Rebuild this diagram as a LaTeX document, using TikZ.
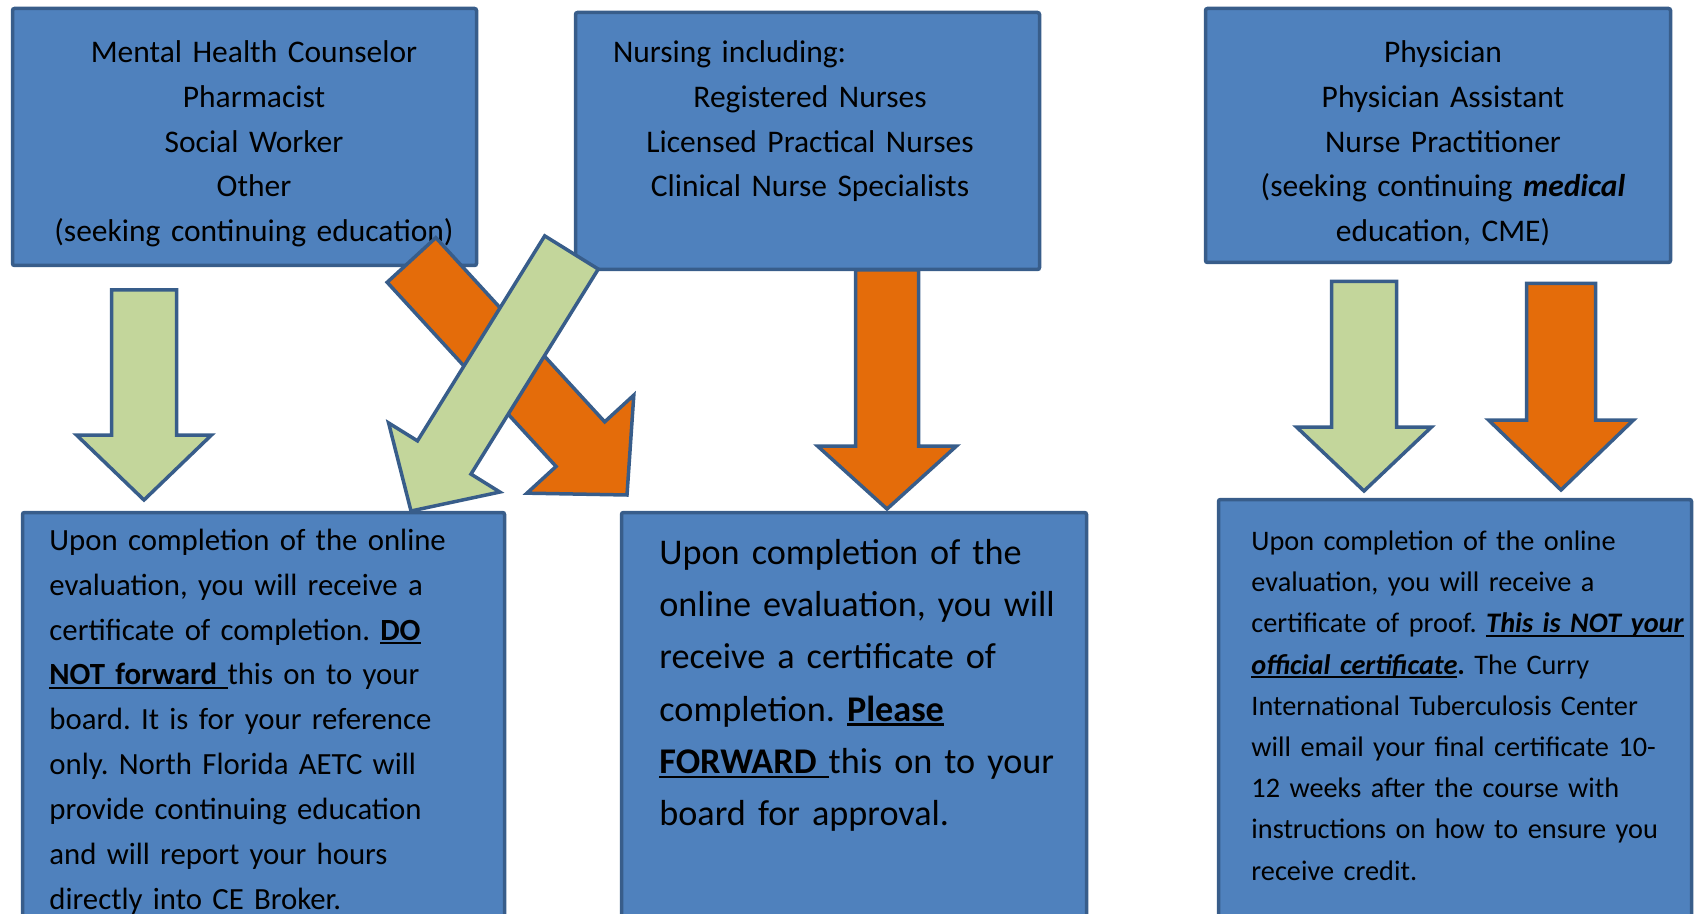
\documentclass[tikz,border=0pt]{standalone}
\usepackage{fontspec}
\setmainfont{Carlito}
\usepackage{tikz}
\usetikzlibrary{calc}
\definecolor{panelblue}{RGB}{79,129,189}
\definecolor{panelline}{RGB}{56,93,138}
\definecolor{arrowgreen}{RGB}{195,214,155}
\definecolor{arroworange}{RGB}{228,108,10}
\frenchspacing
% underline at a fixed depth
\newsavebox{\ulnbox}
\newcommand{\uln}[1]{\leavevmode\sbox\ulnbox{#1}\rlap{\rule[-0.13em]{\wd\ulnbox}{0.065em}}\usebox\ulnbox}
% block arrow: [style]{tail}{tip}{shaft half width}{head half width}{head length}
\newcommand{\blockarrow}[6][]{%
  \coordinate (ba-base) at ($(#3)!#6!(#2)$);
  \filldraw[#1] ($(#2)!#4!90:(#3)$) -- ($(ba-base)!#4!90:(#3)$) -- ($(ba-base)!#5!90:(#3)$) -- (#3)
    -- ($(ba-base)!#5!-90:(#3)$) -- ($(ba-base)!#4!-90:(#3)$) -- ($(#2)!#4!-90:(#3)$) -- cycle;
}

\begin{document}
\begin{tikzpicture}[
  x=0.5pt, y=-0.5pt,
  panel/.style={rectangle, draw=panelline, fill=panelblue, line width=1.75pt, rounded corners=1pt, inner sep=0pt, outer sep=0pt, anchor=north west},
  toptext/.style={inner sep=0pt, anchor=base, align=center, text width=232pt, font=\fontsize{15.75pt}{22.45pt}\selectfont},
  notetext/.style={inner sep=0pt, anchor=base west, align=left, text width=300pt},
  greenarrow/.style={fill=arrowgreen, draw=panelline, line width=1.75pt},
  orangearrow/.style={fill=arroworange, draw=panelline, line width=1.75pt}
]
\useasboundingbox (0,0) rectangle (1695,914);
\clip (0,0) rectangle (1695,914);

% top row
\node[panel, minimum width=232pt, minimum height=128.5pt] (counsel) at (12.5,8.5) {};
\node[panel, minimum width=232pt, minimum height=128.5pt] (nursing) at (575.5,12.5) {};
\node[panel, minimum width=232.5pt, minimum height=127pt] (physician) at (1205.5,8.5) {};

% bottom row
\node[panel, minimum width=241pt, minimum height=214pt] (counselnote) at (22.5,512.5) {};
\node[panel, minimum width=232.5pt, minimum height=214pt] (nursingnote) at (621.5,512.5) {};
\node[panel, minimum width=236.5pt, minimum height=220pt] (physiciannote) at (1218.5,499.5) {};

% texts
\node[toptext] (counseltext) at (254,62.3) {Mental Health Counselor\\Pharmacist\\Social Worker\\Other\\(seeking continuing education)};
\node[toptext] (nursingtext) at (810,62.3) {\makebox[197pt][l]{Nursing including:}\\Registered Nurses\\Licensed Practical Nurses\\Clinical Nurse Specialists};
\node[toptext] (physiciantext) at (1443,62.3) {Physician\\Physician Assistant\\Nurse Practitioner\\(seeking continuing \textbf{\textit{medical}}\\education, CME)};

\node[notetext, font=\fontsize{15.4pt}{22.45pt}\selectfont] (counselnotetext) at (49,550.2) {Upon completion of the online\\
evaluation, you will receive a\\
certificate of completion. \uln{\textbf{DO}}\\
\uln{\textbf{NOT forward }}this on to your\\
board. It is for your reference\\
only. North Florida AETC will\\
provide continuing education\\
and will report your hours\\
directly into CE Broker.};
\node[notetext, font=\fontsize{18.1pt}{26.15pt}\selectfont] (nursingnotetext) at (659,564.2) {Upon completion of the\\
online evaluation, you will\\
receive a certificate of\\
completion. \uln{\textbf{Please}}\\
\uln{\textbf{FORWARD }}this on to your\\
board for approval.};
\node[notetext, font=\fontsize{14.15pt}{20.6pt}\selectfont] (physiciannotetext) at (1251,550.5) {Upon completion of the online\\
evaluation, you will receive a\\
certificate of proof. \uln{\textbf{\textit{This is NOT your}}}\\
\uln{\textbf{\textit{official certificate}}}\textbf{.} The Curry\\
International Tuberculosis Center\\
will email your final certificate 10-\\
12 weeks after the course with\\
instructions on how to ensure you\\
receive credit.};

% arrows
\coordinate (cg-tail) at (144,290);
\coordinate (cg-tip) at (144,500);
\coordinate (co-tail) at (411.5,260);
\coordinate (co-tip) at (627,495);
\coordinate (ng-tail) at (571.5,252.5);
\coordinate (ng-tip) at (411,511);
\coordinate (no-tail) at (887,270);
\coordinate (no-tip) at (887,509);
\coordinate (pg-tail) at (1364,281.5);
\coordinate (pg-tip) at (1364,491);
\coordinate (po-tail) at (1561,283.5);
\coordinate (po-tip) at (1561,490);

\blockarrow[greenarrow]{cg-tail}{cg-tip}{16.25pt}{33.75pt}{32.5pt}
\blockarrow[orangearrow]{co-tail}{co-tip}{16.5pt}{36.25pt}{34.5pt}
\blockarrow[greenarrow]{ng-tail}{ng-tip}{15.75pt}{32.75pt}{31.5pt}
\blockarrow[orangearrow]{no-tail}{no-tip}{15.75pt}{34.75pt}{31.5pt}
\blockarrow[greenarrow]{pg-tail}{pg-tip}{16.25pt}{33.75pt}{32pt}
\blockarrow[orangearrow]{po-tail}{po-tip}{17.25pt}{36.25pt}{35pt}
\end{tikzpicture}
\end{document}
